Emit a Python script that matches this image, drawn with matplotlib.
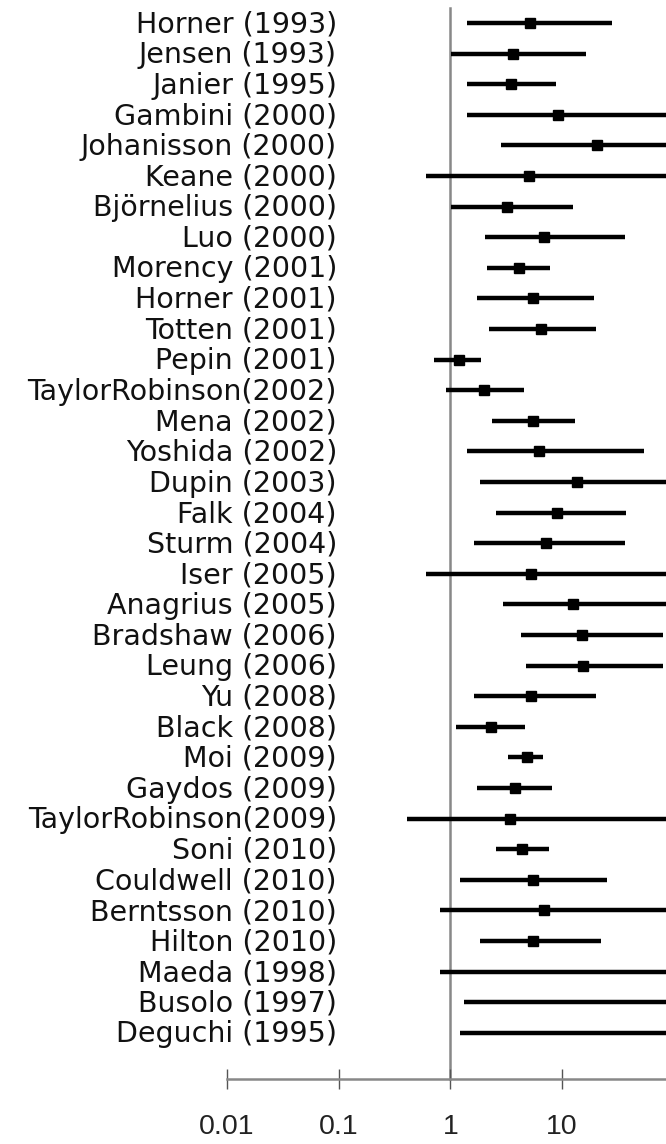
import numpy as np
import matplotlib
matplotlib.use('Agg')
import matplotlib.pyplot as plt
import matplotlib.transforms as mtransforms

studies = ['Horner (1993)', 'Jensen (1993)', 'Janier (1995)', 'Gambini (2000)',
           'Johanisson (2000)', 'Keane (2000)', 'Björnelius (2000)', 'Luo (2000)',
           'Morency (2001)', 'Horner (2001)', 'Totten (2001)', 'Pepin (2001)',
           'TaylorRobinson(2002)', 'Mena (2002)', 'Yoshida (2002)', 'Dupin (2003)',
           'Falk (2004)', 'Sturm (2004)', 'Iser (2005)', 'Anagrius (2005)',
           'Bradshaw (2006)', 'Leung (2006)', 'Yu (2008)', 'Black (2008)',
           'Moi (2009)', 'Gaydos (2009)', 'TaylorRobinson(2009)', 'Soni (2010)',
           'Couldwell (2010)', 'Berntsson (2010)', 'Hilton (2010)', 'Maeda (1998)',
           'Busolo (1997)', 'Deguchi (1995)']

# odds ratio estimates (nan = estimate off the chart)
est = [5.2, 3.65, 3.5, 9.2, 20.5, 5.1, 3.2, 6.9,
       4.1, 5.5, 6.5, 1.2, 2.0, 5.5, 6.2, 13.6,
       9.0, 7.2, 5.3, 12.5, 15.1, 15.4, 5.3, 2.3,
       4.8, 3.8, 3.4, 4.4, 5.5, 6.9, 5.5, np.nan,
       np.nan, np.nan]

lower = [1.42, 1.02, 1.42, 1.42, 2.85, 0.61, 1.02, 2.05,
         2.14, 1.74, 2.23, 0.72, 0.92, 2.37, 1.42, 1.85,
         2.57, 1.64, 0.61, 2.97, 4.3, 4.77, 1.64, 1.13,
         3.3, 1.74, 0.41, 2.57, 1.23, 0.81, 1.85, 0.81,
         1.33, 1.23]

# upper limits above 100 run past the right edge
upper = [27.9, 16.4, 8.8, 300, 300, 300, 12.5, 36.5,
         7.8, 19.3, 20.1, 1.89, 4.6, 13.1, 54, 300,
         37.3, 36.5, 300, 300, 79.8, 79.8, 20.1, 4.67,
         6.8, 8.1, 300, 7.65, 25.2, 300, 22.3, 300,
         300, 300]

ticks = [0.01, 0.1, 1, 10]
tick_labels = ['0.01', '0.1', '1', '10']

n = len(studies)
rows = np.arange(n)

fig = plt.figure(figsize=(6.66, 11.44), dpi=100)
ax = fig.add_axes([0, 0, 1, 1])
ax.set_xscale('log')
ax.set_xlim(10 ** -4.032, 10 ** 1.930)
ax.set_ylim(36.63, -0.75)

# reference line at OR = 1
ax.plot([1, 1], [-0.49, n + 0.5], color='#888888', lw=1.8, zorder=1)

ax.hlines(rows, lower, upper, color='black', lw=3.2, zorder=2)
ax.plot(est, rows, 's', color='black', ms=7, zorder=3)

trans = mtransforms.blended_transform_factory(ax.transAxes, ax.transData)
for r, name in zip(rows, studies):
    ax.text(0.506, r + 0.05, name, transform=trans, ha='right', va='center',
            fontsize=20.5, color='#111111', family='DejaVu Sans')

for s in ['top', 'right', 'left']:
    ax.spines[s].set_visible(False)
ax.spines['bottom'].set_position(('data', n + 0.5))
ax.spines['bottom'].set_bounds(0.01, ax.get_xlim()[1])
ax.spines['bottom'].set_color('#888888')
ax.spines['bottom'].set_linewidth(1.8)

ax.set_yticks([])
ax.set_xticks(ticks)
ax.set_xticklabels(tick_labels, fontsize=20.5, color='#222222', family='Liberation Sans')
ax.minorticks_off()
ax.tick_params(axis='x', direction='inout', length=14, width=1, color='#555555', pad=18)

fig.savefig('out.png', dpi=100)
